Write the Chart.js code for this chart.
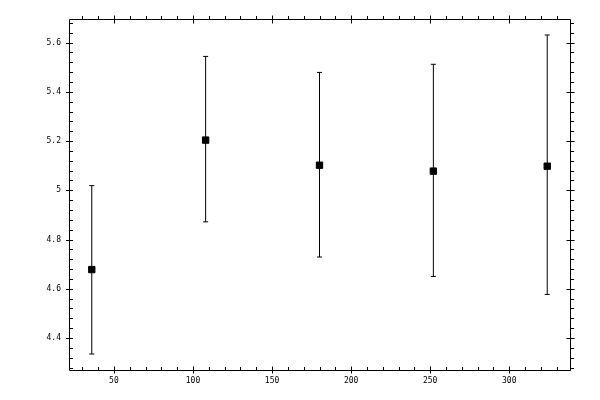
<!DOCTYPE html>
<html>
<head>
<meta charset="utf-8">
<script src="https://cdn.jsdelivr.net/npm/chart.js@4/dist/chart.umd.min.js"></script>
<style>
  html, body { margin: 0; padding: 0; background: #fff; }
</style>
</head>
<body>
<canvas id="errchart" width="600" height="400"></canvas>
<script>
// data
const xValues = [36, 108, 180, 252, 324];
const yValues = [4.678, 5.204, 5.102, 5.078, 5.098];
const yLow    = [4.335, 4.872, 4.729, 4.650, 4.577];
const yHigh   = [5.019, 5.544, 5.479, 5.512, 5.631];

const xTicks = [50, 100, 150, 200, 250, 300];
const yTicks = [4.4, 4.6, 4.8, 5, 5.2, 5.4, 5.6];
const xMinorStep = 10;
const yMinorStep = 0.04;

// points + error bar segments (null breaks the line between bars)
const points = xValues.map((x, i) => ({ x: x, y: yValues[i] }));
const bars = [];
xValues.forEach((x, i) => {
  bars.push({ x: x, y: yLow[i] });
  bars.push({ x: x, y: yHigh[i] });
  bars.push({ x: x, y: null });
});

// box with ticks on all four sides, minor ticks point right/up
const frameTicks = {
  id: 'frameTicks',
  afterDraw(chart) {
    const ctx = chart.ctx;
    const a = chart.chartArea;
    const sx = chart.scales.x, sy = chart.scales.y;
    const L = Math.round(a.left) + 0.5, R = Math.round(a.right) + 0.5;
    const T = Math.round(a.top) + 0.5, B = Math.round(a.bottom) + 0.5;
    ctx.save();
    ctx.strokeStyle = '#000';
    ctx.lineWidth = 1;
    ctx.beginPath();
    ctx.rect(L, T, R - L, B - T);

    function seg(x1, y1, x2, y2) { ctx.moveTo(x1, y1); ctx.lineTo(x2, y2); }

    // minor x
    for (let k = Math.ceil(sx.min / xMinorStep - 1e-9); k * xMinorStep <= sx.max + 1e-9; k++) {
      const px = Math.round(sx.getPixelForValue(k * xMinorStep)) + 0.5;
      seg(px, B, px, B - 3.5);
      seg(px, T, px, T - 3.5);
    }
    // minor y
    for (let k = Math.ceil(sy.min / yMinorStep - 1e-9); k * yMinorStep <= sy.max + 1e-9; k++) {
      const py = Math.round(sy.getPixelForValue(k * yMinorStep)) + 0.5;
      seg(L, py, L + 3.5, py);
      seg(R, py, R + 3.5, py);
    }
    // major x
    xTicks.forEach(v => {
      const px = Math.round(sx.getPixelForValue(v)) + 0.5;
      seg(px, B + 3, px, B - 4);
      seg(px, T - 4, px, T + 4);
    });
    // major y
    yTicks.forEach(v => {
      const py = Math.round(sy.getPixelForValue(v)) + 0.5;
      seg(L - 3.5, py, L + 3.5, py);
      seg(R - 4, py, R + 4, py);
    });
    ctx.stroke();
    ctx.restore();
  }
};

const ctx = document.getElementById('errchart').getContext('2d');
const errchart = new Chart(ctx, {
  type: 'scatter',
  data: {
    datasets: [{
      data: points,
      pointStyle: 'rect',
      pointRadius: 4.5,
      pointBackgroundColor: '#000',
      pointBorderColor: '#000',
      pointBorderWidth: 1
    }, {
      type: 'line',
      data: bars,
      showLine: true,
      spanGaps: false,
      borderColor: '#000',
      borderWidth: 1,
      pointStyle: 'line',
      pointRadius: 2.5,
      pointBorderColor: '#000',
      pointBorderWidth: 1
    }]
  },
  options: {
    responsive: false,
    animation: false,
    events: [],
    layout: { padding: { top: 19, right: 30, left: 0, bottom: 0 } },
    plugins: { legend: { display: false }, tooltip: { enabled: false } },
    scales: {
      x: {
        type: 'linear',
        min: 21.6,
        max: 338.4,
        grid: { display: false, drawTicks: false },
        border: { display: false },
        afterBuildTicks: s => { s.ticks = xTicks.map(v => ({ value: v })); },
        afterFit: s => { s.height = 30; },
        ticks: {
          padding: 6,
          maxRotation: 0,
          autoSkip: false,
          color: '#000',
          font: { family: 'DejaVu Sans Mono', size: 8 },
          callback: v => String(+v.toFixed(2))
        }
      },
      y: {
        type: 'linear',
        min: 4.27,
        max: 5.696,
        grid: { display: false, drawTicks: false },
        border: { display: false },
        afterBuildTicks: s => { s.ticks = yTicks.map(v => ({ value: v })); },
        afterFit: s => { s.width = 69; },
        ticks: {
          padding: 8,
          autoSkip: false,
          color: '#000',
          font: { family: 'DejaVu Sans Mono', size: 8 },
          callback: v => String(+v.toFixed(2))
        }
      }
    }
  },
  plugins: [frameTicks]
});
</script>
</body>
</html>
